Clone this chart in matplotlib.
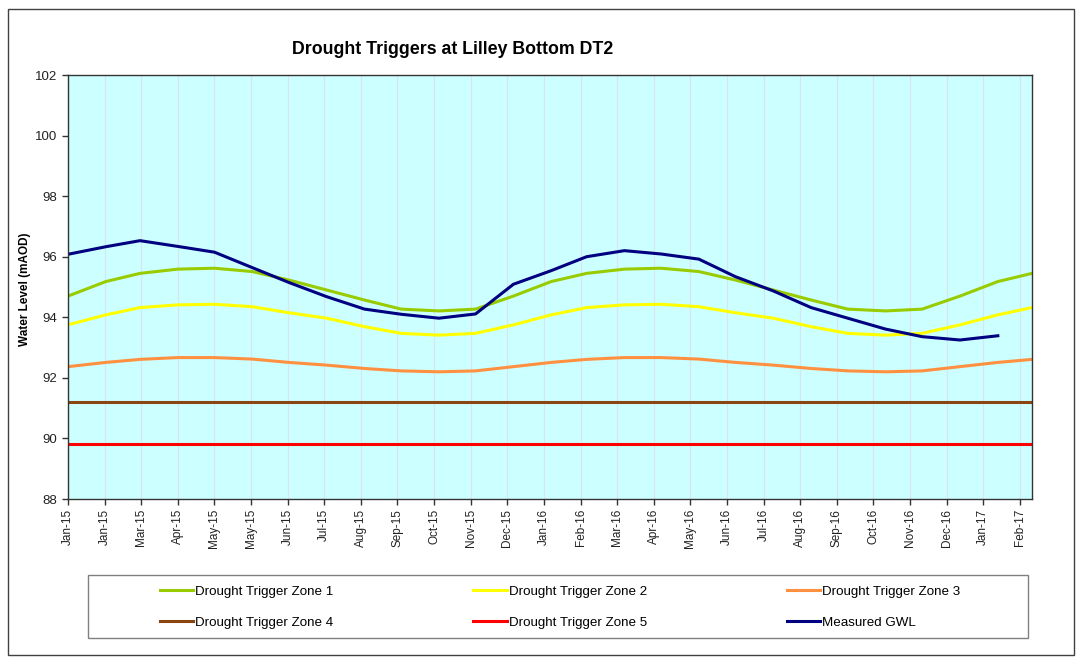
import matplotlib
matplotlib.use("Agg")
import matplotlib.pyplot as plt
import matplotlib.dates as mdates
from matplotlib.patches import Rectangle
from matplotlib.lines import Line2D
import numpy as np
import datetime as dt

plt.rcParams['font.family'] = ['Liberation Sans', 'DejaVu Sans']

# ---------------- data ----------------
title = "Drought Triggers at Lilley Bottom DT2"
ylabel = "Water Level (mAOD)"

trigger_months = ["2015-01", "2015-02", "2015-03", "2015-04", "2015-05", "2015-06",
                  "2015-07", "2015-08", "2015-09", "2015-10", "2015-11", "2015-12",
                  "2016-01", "2016-02", "2016-03", "2016-04", "2016-05", "2016-06",
                  "2016-07", "2016-08", "2016-09", "2016-10", "2016-11", "2016-12",
                  "2017-01", "2017-02", "2017-03"]

zone1 = [94.70, 95.18, 95.45, 95.59, 95.62, 95.51, 95.23, 94.90, 94.57, 94.27, 94.21, 94.27,
         94.70, 95.18, 95.45, 95.59, 95.62, 95.51, 95.23, 94.90, 94.57, 94.27, 94.21, 94.27,
         94.70, 95.18, 95.45]
zone2 = [93.75, 94.08, 94.32, 94.41, 94.43, 94.35, 94.15, 93.97, 93.69, 93.47, 93.41, 93.47,
         93.75, 94.08, 94.32, 94.41, 94.43, 94.35, 94.15, 93.97, 93.69, 93.47, 93.41, 93.47,
         93.75, 94.08, 94.32]
zone3 = [92.37, 92.51, 92.61, 92.67, 92.67, 92.62, 92.51, 92.42, 92.31, 92.23, 92.20, 92.23,
         92.37, 92.51, 92.61, 92.67, 92.67, 92.62, 92.51, 92.42, 92.31, 92.23, 92.20, 92.23,
         92.37, 92.51, 92.61]
zone4_level = 91.2
zone5_level = 89.8

gwl_months = ["2015-01", "2015-02", "2015-03", "2015-04", "2015-05", "2015-06",
              "2015-07", "2015-08", "2015-09", "2015-10", "2015-11", "2015-12",
              "2016-01", "2016-02", "2016-03", "2016-04", "2016-05", "2016-06",
              "2016-07", "2016-08", "2016-09", "2016-10", "2016-11", "2016-12",
              "2017-01", "2017-02"]
gwl = [96.08, 96.33, 96.53, 96.34, 96.15, 95.64, 95.15, 94.68, 94.27, 94.10, 93.97, 94.11,
       95.09, 95.54, 96.00, 96.20, 96.09, 95.92, 95.34, 94.87, 94.32, 93.97, 93.61, 93.36,
       93.25, 93.39]

tick_labels = ["Jan-15", "Jan-15", "Mar-15", "Apr-15", "May-15", "May-15", "Jun-15",
               "Jul-15", "Aug-15", "Sep-15", "Oct-15", "Nov-15", "Dec-15", "Jan-16",
               "Feb-16", "Mar-16", "Apr-16", "May-16", "Jun-16", "Jul-16", "Aug-16",
               "Sep-16", "Oct-16", "Nov-16", "Dec-16", "Jan-17", "Feb-17"]
yticks = [88, 90, 92, 94, 96, 98, 100, 102]

series_labels = ["Drought Trigger Zone 1", "Drought Trigger Zone 2", "Drought Trigger Zone 3",
                 "Drought Trigger Zone 4", "Drought Trigger Zone 5", "Measured GWL"]
colors = ["#99CC00", "#FFFF00", "#FF9040", "#8B4510", "#FF0000", "#000080"]

# ---------------- plot ----------------
def to_num(m):
    return mdates.date2num(dt.datetime.strptime(m + "-01", "%Y-%m-%d"))

tx = [to_num(m) for m in trigger_months]
gx = [to_num(m) for m in gwl_months]
start = mdates.date2num(dt.datetime(2015, 1, 1))
tick_pos = [start + 30 * i for i in range(len(tick_labels))]

W, H = 1080, 659
fig = plt.figure(figsize=(W / 100, H / 100), dpi=100)
fig.patches.append(Rectangle((8 / W, 1 - 655 / H), 1066 / W, 646 / H, transform=fig.transFigure,
                             fill=False, edgecolor="#404040", linewidth=1.0))

ax = fig.add_axes([68 / W, 1 - 499 / H, (1032 - 68) / W, (499 - 75) / H])
ax.set_facecolor("#CCFFFF")

for p in tick_pos:
    ax.axvline(p, color="#DCE2EE", linewidth=0.8, zorder=0)

lw = 2.2
ax.plot(tx, zone1, color=colors[0], lw=lw, label=series_labels[0])
ax.plot(tx, zone2, color=colors[1], lw=lw, label=series_labels[1])
ax.plot(tx, zone3, color=colors[2], lw=lw, label=series_labels[2])
ax.plot(tx, np.full(len(tx), zone4_level), color=colors[3], lw=lw, label=series_labels[3])
ax.plot(tx, np.full(len(tx), zone5_level), color=colors[4], lw=lw, label=series_labels[4])
ax.plot(gx, gwl, color=colors[5], lw=lw, label=series_labels[5])

ax.set_xlim(start, to_num("2017-03"))
ax.set_ylim(88, 102)
ax.set_yticks(yticks)
ax.set_yticklabels([str(v) for v in yticks], fontsize=9.5, color="#222222")
ax.set_xticks(tick_pos)
ax.set_xticklabels(tick_labels, rotation=90, fontsize=8.5, color="#222222")
ax.tick_params(axis="both", direction="out", length=4, width=1, color="#333333")
ax.tick_params(axis="y", pad=4)
ax.tick_params(axis="x", pad=3)
for s in ax.spines.values():
    s.set_color("#333333")
    s.set_linewidth(1.0)

fig.text(453 / W, 1 - 49 / H, title, ha="center", va="center", fontsize=12.8, fontweight="bold")
fig.text(25 / W, 1 - 289 / H, ylabel, ha="center", va="center", rotation=90,
         fontsize=8.5, fontweight="bold")

# legend
fig.patches.append(Rectangle((88 / W, 1 - 638 / H), 940 / W, 63 / H, transform=fig.transFigure,
                             fill=False, edgecolor="#808080", linewidth=1.0))
handles = [Line2D([], [], color=c, lw=2.2) for c in colors]
order = [0, 3, 1, 4, 2, 5]
leg = fig.legend([handles[i] for i in order], [series_labels[i] for i in order],
                 ncol=3, loc="center", bbox_to_anchor=(560 / W, 1 - 607 / H),
                 frameon=False, fontsize=9.6, handlelength=2.5, handletextpad=0.15,
                 columnspacing=10.5, labelspacing=1.42)
fig.savefig("out.png", dpi=100)
